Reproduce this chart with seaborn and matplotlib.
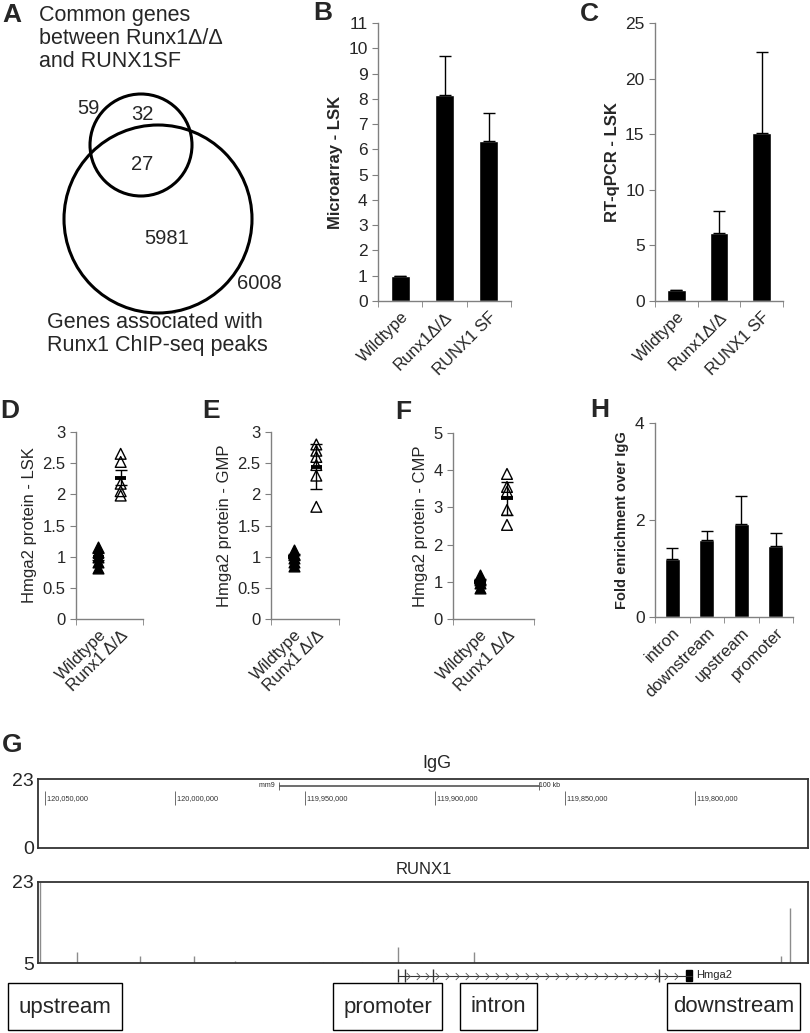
import numpy as np
import pandas as pd
import seaborn as sns
import matplotlib.pyplot as plt
from matplotlib.patches import Circle, Rectangle
from matplotlib.path import Path

# ---------------- data ----------------
venn_title = "Common genes\nbetween Runx1\u0394/\u0394\nand RUNX1SF"
venn_bottom = "Genes associated with\nRunx1 ChIP-seq peaks"
venn_only_expr = "32"
venn_overlap = "27"
venn_only_chip = "5981"
venn_total_expr = "59"
venn_total_chip = "6008"

bar_groups = ["Wildtype", "Runx1\u0394/\u0394", "RUNX1 SF"]
micro_values = [1.0, 8.15, 6.35]
micro_err = [0.0, 1.55, 1.07]
qpcr_values = [1.0, 6.1, 15.15]
qpcr_err = [0.0, 2.0, 7.25]

chip_regions = ["intron", "downstream", "upstream", "promoter"]
chip_values = [1.2, 1.58, 1.92, 1.47]
chip_err = [0.23, 0.19, 0.58, 0.27]

dot_groups = ["Wildtype", "Runx1 \u0394/\u0394"]
lsk_wt = [0.82, 0.92, 1.0, 1.08, 1.16]
lsk_ko = [1.98, 2.05, 2.17, 2.52, 2.65]
lsk_mean = [1.0, 2.27]
lsk_sem = [0.06, 0.12]
gmp_wt = [0.85, 0.92, 0.98, 1.05, 1.1]
gmp_ko = [1.8, 2.3, 2.47, 2.6, 2.7, 2.8]
gmp_mean = [1.0, 2.44]
gmp_sem = [0.05, 0.36]
cmp_wt = [0.83, 0.96, 1.05, 1.19]
cmp_ko = [2.53, 2.93, 3.42, 3.55, 3.9]
cmp_mean = [1.0, 3.24]
cmp_sem = [0.07, 0.45]

# genome browser (mm9, chr10)
view_left, view_right = 120052700, 119756500
ruler_ticks = [120050000, 120000000, 119950000, 119900000, 119850000, 119800000]
scale_bar = (119960000, 119860000)
peak_pos = [120051900, 120037700, 120013500, 119992700, 119976900, 119948500,
            119943100, 119928100, 119914240, 119884900, 119833900, 119811200,
            119805000, 119766900, 119763500]
peak_val = [23.0, 7.5, 6.5, 6.6, 5.4, 5.3, 5.3, 5.3, 8.6, 7.5, 5.3, 5.3, 5.3, 6.5, 17.2]
hmga2_span = (119914360, 119801160)
hmga2_exons = [119914360, 119911360, 119900820, 119814000]
hmga2_block = (119803470, 119801160)
region_boxes = ["upstream", "promoter", "intron", "downstream"]

# ---------------- style ----------------
sns.set_style("ticks")
plt.rcParams["font.family"] = ["Liberation Sans", "DejaVu Sans"]
narrow = ["Liberation Sans Narrow", "Liberation Sans", "DejaVu Sans"]
AXC = "#808080"

W, H = 810, 1033
fig = plt.figure(figsize=(W / 100, H / 100), dpi=100)


def px(x0, y0, x1, y1):
    return [x0 / W, 1 - y1 / H, (x1 - x0) / W, (y1 - y0) / H]


def ftxt(x, y, s, **kw):
    fig.text(x / W, 1 - y / H, s, **kw)


def style_axis(ax, size=12):
    sns.despine(ax=ax)
    for s in ["left", "bottom"]:
        ax.spines[s].set_color(AXC)
        ax.spines[s].set_linewidth(1)
    ax.tick_params(axis="both", which="both", color=AXC, direction="out", length=4, labelsize=size)
    ax.set_xlabel("")


def cat_ticks(ax, labels, n_slots, offset):
    pos = np.arange(len(labels))
    ax.set_xticks(pos)
    ax.set_xticklabels(labels, rotation=45, ha="right", rotation_mode="anchor", fontsize=12)
    ax.tick_params(axis="x", which="major", length=0, pad=6)
    ax.set_xticks(np.arange(n_slots + 1) - offset, minor=True)


def bar_panel(rect, groups, values, errs, ymax, step, ylabel, lab_size=12):
    ax = fig.add_axes(px(*rect))
    df = pd.DataFrame({"group": groups, "value": values})
    sns.barplot(data=df, x="group", y="value", color="black", saturation=1,
                width=0.43, errorbar=None, ax=ax)
    ax.errorbar(np.arange(len(values)), values, yerr=[np.zeros(len(values)), errs],
                fmt="none", ecolor="black", elinewidth=1, capsize=4, capthick=1)
    ax.set_xlim(-0.5, len(groups) - 0.5)
    ax.set_ylim(0, ymax)
    ax.set_yticks(np.arange(0, ymax + 0.01, step))
    style_axis(ax, 12.5)
    cat_ticks(ax, groups, len(groups), 0.5)
    ax.set_ylabel(ylabel, fontsize=lab_size, fontweight="bold", labelpad=4)
    return ax


def dot_panel(rect, wt, ko, mean, sem, ymax, step, ylabel):
    ax = fig.add_axes(px(*rect))
    sns.scatterplot(x=np.zeros(len(wt)), y=wt, marker="^", s=60, color="black",
                    edgecolor="black", linewidth=1, ax=ax)
    sns.scatterplot(x=np.ones(len(ko)), y=ko, marker="^", s=60, color="white",
                    edgecolor="black", linewidth=1, ax=ax)
    ax.collections[-1].set_facecolor("none")
    ax.errorbar([0, 1], mean, yerr=sem, fmt="none", ecolor="black", elinewidth=1,
                capsize=4, capthick=1)
    ax.hlines(mean, [-0.24, 0.76], [0.24, 1.24], color="black", linewidth=2.8)
    ax.set_xlim(-1, 2)
    ax.set_ylim(0, ymax)
    ax.set_yticks(np.arange(0, ymax + 0.01, step))
    ax.set_yticklabels([f"{v:g}" for v in np.arange(0, ymax + 0.01, step)])
    style_axis(ax)
    cat_ticks(ax, dot_groups, 3, 1)
    ax.set_ylabel(ylabel, fontsize=12, labelpad=4)
    return ax


# ---------------- panel A: Venn ----------------
axa = fig.add_axes(px(0, 0, 270, 330))
axa.set_xlim(0, 270)
axa.set_ylim(330, 0)
axa.axis("off")
axa.add_patch(Circle((141, 145), 51, fill=False, lw=2.2, ec="black"))
axa.add_patch(Circle((158, 219), 94, fill=False, lw=2.2, ec="black"))
for (x, y), s in zip([(88, 108), (142, 115), (142, 165), (167, 239), (259, 284)],
                     [venn_total_expr, venn_only_expr, venn_overlap, venn_only_chip, venn_total_chip]):
    axa.text(x, y, s, fontsize=14.5, ha="center", va="center")
ftxt(39, 5, venn_title, fontsize=15.5, va="top", ha="left", linespacing=1.12)
ftxt(47, 312, venn_bottom, fontsize=15.5, va="top", ha="left", linespacing=1.15)

# ---------------- panels B, C ----------------
bar_panel((378, 23, 511, 301), bar_groups, micro_values, micro_err, 11, 1, "Microarray - LSK")
bar_panel((655, 23, 783, 301), bar_groups, qpcr_values, qpcr_err, 25, 5, "RT-qPCR - LSK")

# ---------------- panels D, E, F ----------------
dot_panel((76, 432, 143, 619), lsk_wt, lsk_ko, lsk_mean, lsk_sem, 3, 0.5, "Hmga2 protein - LSK")
dot_panel((271, 432, 339, 619), gmp_wt, gmp_ko, gmp_mean, gmp_sem, 3, 0.5, "Hmga2 protein - GMP")
dot_panel((453, 433, 534, 619), cmp_wt, cmp_ko, cmp_mean, cmp_sem, 5, 1, "Hmga2 protein - CMP")

# ---------------- panel H ----------------
bar_panel((655, 423, 793, 617), chip_regions, chip_values, chip_err, 4, 2,
          "Fold enrichment over IgG", lab_size=10.5)

# ---------------- panel G: browser tracks ----------------
axi = fig.add_axes(px(38, 779, 808, 848))
axi.set_xlim(view_left, view_right)
axi.set_ylim(0, 23)
axi.set_xticks([])
axi.set_yticks([0, 23])
axi.set_yticklabels(["0", "23"], family=narrow, fontsize=14)
axi.tick_params(axis="y", length=0, pad=3)
tr = axi.get_xaxis_transform()
axi.vlines(ruler_ticks, 0.62, 0.82, color="#555555", lw=0.6, transform=tr)
for t in ruler_ticks:
    axi.text(t, 0.72, f" {t:,}", fontsize=5.3, va="center", ha="left", transform=tr,
             color="#333333", family=narrow)
axi.hlines(0.9, *scale_bar, color="#555555", lw=1.2, transform=tr)
axi.vlines(scale_bar, 0.84, 0.96, color="#555555", lw=0.6, transform=tr)
axi.text(scale_bar[0], 0.9, "mm9  ", fontsize=5, va="center", ha="right", transform=tr, family=narrow)
axi.text(scale_bar[1], 0.9, "100 kb", fontsize=5, va="center", ha="left", transform=tr, family=narrow)
ftxt(437, 763, "IgG", fontsize=13, family=narrow, ha="center", va="center")

axr = fig.add_axes(px(38, 882, 808, 963))
axr.set_xlim(view_left, view_right)
axr.set_ylim(5, 23)
axr.vlines(peak_pos, 5, peak_val, color="#8c8c8c", lw=1)
axr.set_xticks([])
axr.set_yticks([5, 23])
axr.set_yticklabels(["5", "23"], family=narrow, fontsize=14)
axr.tick_params(axis="y", length=0, pad=3)
ftxt(424, 870, "RUNX1", fontsize=12, family=narrow, ha="center", va="center")
for a in (axi, axr):
    for s in a.spines.values():
        s.set_color("#333333")
        s.set_linewidth(1.3)

axg = fig.add_axes(px(38, 966, 808, 985))
axg.set_xlim(view_left, view_right)
axg.set_ylim(-1, 1)
axg.axis("off")
axg.hlines(0, *hmga2_span, color="#333333", lw=0.8)
axg.vlines(hmga2_exons, -0.7, 0.7, color="#333333", lw=1)
axg.add_patch(Rectangle((hmga2_block[1], -0.55), hmga2_block[0] - hmga2_block[1], 1.1,
                        color="black"))
chev = Path([(-0.5, 1), (0.5, 0), (-0.5, -1)], [Path.MOVETO, Path.LINETO, Path.LINETO])
chev_x = np.linspace(hmga2_span[0], hmga2_block[0], 30)[1:-1]
axg.plot(chev_x, np.zeros(len(chev_x)), ls="none", marker=chev, ms=5,
         mfc="none", mec="#555555", mew=0.6)
axg.text(hmga2_block[1] - 1500, 0, "Hmga2", fontsize=8, family=narrow, va="center", ha="left")

for (x0, x1), s in zip([(8, 122), (333, 442), (460, 537), (667, 800)], region_boxes):
    fig.add_artist(Rectangle((x0 / W, 1 - 1030 / H), (x1 - x0) / W, 47 / H,
                             transform=fig.transFigure, fill=False, ec="black", lw=1))
    ftxt((x0 + x1) / 2, 1007, s, fontsize=16, family=narrow, ha="center", va="center")

# ---------------- panel letters ----------------
for (x, y), s in zip([(2, 15), (313, 13), (580, 14), (0, 411), (202, 411), (395, 412),
                      (590, 410), (2, 745)], list("ABCDEFHG")):
    ftxt(x, y, s, fontsize=19, fontweight="bold", ha="left", va="center")

fig.savefig("out.png", dpi=100)
